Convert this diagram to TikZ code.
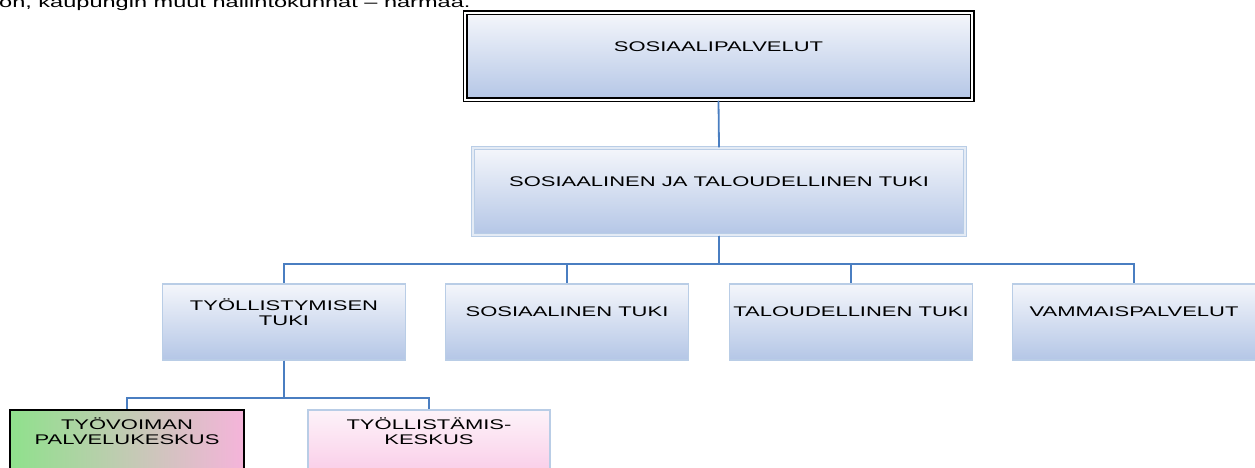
\documentclass[tikz,border=0pt]{standalone}
\usepackage{fontspec}
\setmainfont{Liberation Sans}[FakeStretch=1.57]
\definecolor{conncol}{RGB}{74,126,193}
\definecolor{boxtop}{RGB}{244,246,251}
\definecolor{boxbot}{RGB}{180,198,230}
\definecolor{boxline}{RGB}{185,205,230}
\definecolor{boxlight}{RGB}{228,235,245}
\definecolor{tpkgreen}{RGB}{143,225,140}
\definecolor{tpkpink}{RGB}{245,180,218}
\definecolor{tktop}{RGB}{253,243,249}
\definecolor{tkpink}{RGB}{249,200,230}
\begin{document}
\begin{tikzpicture}[x=1pt,y=-1pt,
		box/.style={top color=boxtop,bottom color=boxbot,draw=boxline,line width=1.3pt,
			minimum width=243pt,minimum height=76pt,inner sep=2pt,align=center,
			text depth=20pt,font=\fontsize{14}{15}\selectfont},
		conn/.style={draw=conncol,line width=1.8pt}]
	\useasboundingbox (0,0) rectangle (1255,468);
	\clip (0,0) rectangle (1255,468);
	\node[anchor=base west,inner sep=0pt,font=\fontsize{15}{17}\selectfont] (note) at (-1,7.5) {on, kaupungin muut hallintokunnat – harmaa.};
	% ylin taso
	\node[box,draw=black,double=white,double distance=2pt,line width=1.5pt,
		minimum width=507pt,minimum height=87pt] (sos) at (718.5,56.5) {SOSIAALIPALVELUT};
	\node[box,double=boxlight,double distance=1.5pt,line width=1.2pt,
		minimum width=492pt,minimum height=87pt] (sjt) at (719,191.5) {SOSIAALINEN JA TALOUDELLINEN TUKI};
	% yksikot
	\node[box] (tyo) at (284,322) {TYÖLLISTYMISEN\\TUKI};
	\node[box] (sost) at (567,322) {SOSIAALINEN TUKI};
	\node[box] (talt) at (851,322) {TALOUDELLINEN TUKI};
	\node[box] (vam) at (1134,322) {VAMMAISPALVELUT};
	\node[box,left color=tpkgreen,right color=tpkpink,draw=black,minimum width=234pt,
		minimum height=72pt,text depth=30pt] (tpk) at (127,446) {TYÖVOIMAN\\PALVELUKESKUS};
	\node[box,top color=tktop,bottom color=tkpink,minimum width=242pt,
		minimum height=72pt,text depth=30pt] (tk) at (429,446) {TYÖLLISTÄMIS-\\KESKUS};
	\draw[conn] (sos.south) -- (sjt.north);
	\foreach \n in {tyo,sost,talt,vam}
		\draw[conn] (sjt.south) -- ++(0,28) -| (\n.north);
	\foreach \n in {tpk,tk}
		\draw[conn] (tyo.south) -- ++(0,37) -| (\n.north);
\end{tikzpicture}
\end{document}
